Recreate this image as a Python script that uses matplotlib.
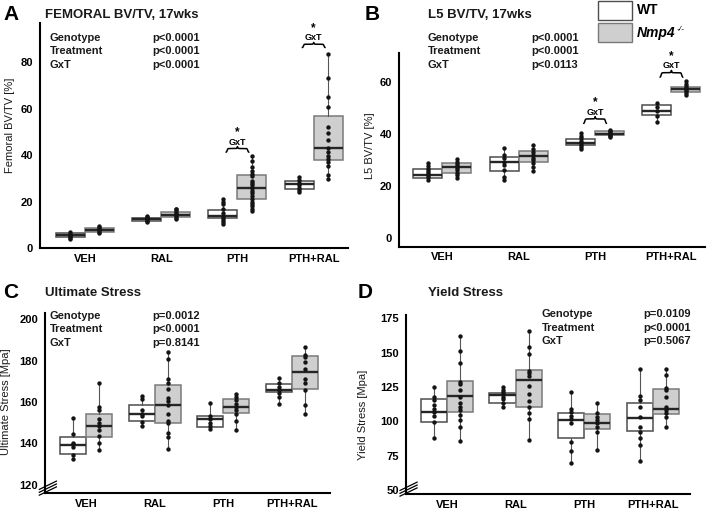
import numpy as np
import matplotlib
matplotlib.use("Agg")
import matplotlib.pyplot as plt
from matplotlib.patches import Rectangle

plt.rcParams['font.family'] = ['Liberation Sans', 'DejaVu Sans']

groups = ["VEH", "RAL", "PTH", "PTH+RAL"]

# Panel A - femoral BV/TV [%]
fem_wt_pts = [[4.0, 4.5, 5.0, 5.3, 5.7, 6.2, 6.8],
              [11.2, 11.7, 12.1, 12.5, 12.9, 13.4, 14.0],
              [10.4, 11.2, 12.0, 13.0, 14.0, 15.2, 17.0, 19.0, 20.0, 21.2],
              [24.1, 25.0, 26.0, 27.0, 28.0, 29.5, 30.6]]
fem_ko_pts = [[6.6, 7.1, 7.6, 8.0, 8.4, 8.9, 9.5],
              [12.5, 13.1, 13.7, 14.2, 14.7, 15.3, 16.0, 16.6, 17.0],
              [16.0, 17.0, 18.0, 19.0, 20.0, 21.0, 22.5, 23.5, 24.5, 25.8, 27.0, 28.0, 29.0, 31.0, 32.0, 33.0, 35.0, 37.5, 39.5],
              [29.7, 31.6, 35.5, 36.9, 38.4, 39.8, 41.3, 43.2, 46.5, 49.4, 52.2, 60.9, 65.2, 73.5, 83.5]]
fem_wt_box = [(4.7, 5.5, 6.3), (11.8, 12.4, 13.1), (12.8, 13.6, 16.2), (25.5, 27.6, 29.1)]
fem_ko_box = [(7.1, 7.9, 8.8), (13.5, 14.3, 15.4), (21.1, 25.8, 31.6), (38.1, 43.2, 56.8)]
fem_p = ["p<0.0001", "p<0.0001", "p<0.0001"]

# Panel B - L5 BV/TV [%]
l5_wt_pts = [[22.3, 23.2, 24.0, 24.8, 25.6, 26.5, 27.5, 28.7],
             [22.3, 23.5, 26.0, 27.8, 29.0, 30.5, 32.0, 34.6],
             [34.2, 35.0, 35.8, 36.5, 37.3, 38.3, 39.3, 40.4],
             [44.5, 47.0, 48.8, 50.5, 51.9]]
l5_ko_pts = [[23.0, 24.0, 25.0, 26.0, 26.8, 27.6, 28.4, 29.2, 30.1],
             [25.8, 27.3, 28.6, 29.8, 30.8, 31.8, 32.8, 34.0, 35.8],
             [38.7, 39.2, 39.6, 40.0, 40.5, 41.0, 41.6],
             [54.9, 55.6, 56.3, 57.0, 57.6, 58.3, 59.0, 60.4]]
l5_wt_box = [(22.9, 24.2, 26.5), (25.6, 29.0, 31.0), (35.8, 36.5, 37.8), (47.1, 48.8, 51.2)]
l5_ko_box = [(24.8, 27.1, 28.8), (29.0, 31.4, 33.2), (39.4, 40.1, 40.9), (55.9, 57.1, 58.1)]
l5_p = ["p<0.0001", "p<0.0001", "p<0.0113"]

# Panel C - ultimate stress [Mpa]
ult_wt_pts = [[132.3, 134.4, 138.4, 139.5, 140.3, 144.3, 152.3],
              [148.3, 150.4, 153.0, 154.1, 156.0, 161.3, 162.9],
              [146.7, 148.3, 149.9, 152.0, 153.3, 159.7],
              [158.9, 162.4, 164.5, 165.9, 167.0, 169.3, 171.7]]
ult_ko_pts = [[136.8, 140.3, 143.5, 146.4, 148.3, 150.0, 152.0, 156.3, 157.6, 169.1],
              [137.1, 143.2, 145.1, 149.9, 151.0, 154.4, 158.4, 160.5, 162.1, 166.4, 169.0, 170.9, 180.8, 184.3],
              [146.4, 150.9, 154.0, 156.0, 157.6, 159.0, 161.0, 162.5, 164.0],
              [154.4, 158.4, 165.6, 169.0, 171.2, 176.0, 179.5, 181.5, 182.9, 186.4]]
ult_wt_box = [(134.9, 139.2, 143.2), (150.9, 154.1, 158.7), (148.0, 152.0, 153.3), (164.8, 165.9, 168.8)]
ult_ko_box = [(142.9, 148.3, 154.4), (149.6, 158.4, 168.3), (154.9, 157.6, 161.6), (166.4, 174.4, 182.4)]
ult_p = ["p=0.0012", "p<0.0001", "p=0.8141"]

# Panel D - yield stress [Mpa]
yld_wt_pts = [[87.6, 99.3, 104.0, 106.6, 108.8, 111.9, 115.5, 117.9, 125.2],
              [110.2, 113.5, 116.0, 118.0, 119.8, 121.5, 123.0, 124.8],
              [69.6, 78.2, 85.2, 98.5, 101.5, 104.0, 106.5, 108.8, 121.1],
              [71.1, 82.8, 88.1, 92.0, 95.6, 103.0, 110.2, 115.5, 118.4, 137.9]]
yld_ko_pts = [[85.7, 96.1, 101.0, 104.5, 108.0, 110.5, 113.1, 118.0, 122.8, 127.2, 129.0, 142.7, 151.4, 162.3],
              [86.4, 101.7, 106.0, 110.7, 115.0, 120.0, 125.7, 133.0, 135.0, 137.0, 149.0, 153.9, 165.8],
              [79.1, 92.4, 95.5, 98.5, 101.0, 103.0, 106.3, 113.1],
              [96.1, 103.0, 106.0, 108.0, 110.7, 117.5, 122.5, 124.5, 133.7, 137.9]]
yld_wt_box = [(99.3, 106.6, 116.0), (113.1, 119.2, 120.8), (88.1, 101.0, 105.8), (93.0, 102.2, 113.1)]
yld_ko_box = [(106.6, 118.4, 129.1), (110.7, 130.1, 137.4), (94.4, 98.5, 105.1), (105.3, 108.8, 123.8)]
yld_p = ["p=0.0109", "p<0.0001", "p=0.5067"]

p_names = ["Genotype", "Treatment", "GxT"]

W, H = 711, 514
KO_FACE = '#cfcfcf'
off = 0.19
bw = 0.38

fig = plt.figure(figsize=(W / 100, H / 100), dpi=100)


def px(x, y):
    return x / W, 1 - y / H


def draw_panel(rect, wt_pts, ko_pts, wt_box, ko_box, ylim, xlim, yticks):
    ax = fig.add_axes(rect)
    for pts, box, sign, face, edge in [(wt_pts, wt_box, -1, 'white', '#4d4d4d'),
                                       (ko_pts, ko_box, 1, KO_FACE, '#7a7a7a')]:
        stats = []
        for p, b in zip(pts, box):
            stats.append(dict(whislo=min(p), q1=b[0], med=b[1], q3=b[2], whishi=max(p), fliers=[]))
        pos = np.arange(len(groups)) + sign * off
        ax.bxp(stats, positions=pos, widths=bw, patch_artist=True, showcaps=False, showfliers=False,
               boxprops=dict(facecolor=face, edgecolor=edge, linewidth=1.1),
               medianprops=dict(color='#262626', linewidth=1.7),
               whiskerprops=dict(color='#555555', linewidth=0.8), manage_ticks=False)
        for x, p in zip(pos, pts):
            ax.scatter(np.full(len(p), x), p, s=10, color='#141414', zorder=4, linewidths=0)
    ax.set_xlim(*xlim)
    ax.set_ylim(*ylim)
    ax.set_yticks(yticks)
    ax.set_xticks(np.arange(len(groups)))
    ax.set_xticklabels(groups, fontsize=8, fontweight='bold')
    for lab in ax.get_yticklabels():
        lab.set_fontweight('bold')
        lab.set_fontsize(8)
    ax.tick_params(length=0, pad=5)
    ax.tick_params(axis='x', pad=4)
    for s in ['top', 'right']:
        ax.spines[s].set_visible(False)
    for s in ['left', 'bottom']:
        ax.spines[s].set_linewidth(1.5)
    return ax


def brace(ax, x0, x1, y, h):
    u = np.linspace(0, 0.5, 100)
    b = 70
    yh = 1 / (1 + np.exp(-b * (u - 0.05))) + 1 / (1 + np.exp(-b * (u - 0.5)))
    yh = (yh - yh.min()) / (yh.max() - yh.min())
    xs = np.concatenate([x0 + u * (x1 - x0), x0 + (1 - u[::-1]) * (x1 - x0)])
    ys = np.concatenate([yh, yh[::-1]])
    ax.plot(xs, y + h * ys, color='black', lw=1.1, solid_capstyle='round')
    g = ax.annotate("GxT", xy=((x0 + x1) / 2, y + h), xytext=(0, 0), textcoords='offset points',
                    ha='center', va='bottom', fontsize=6.5, fontweight='bold')
    # star sits right on top of the GxT label
    ax.annotate("*", xy=(0.5, 1.0), xycoords=g, xytext=(0, -0.2), textcoords='offset points',
                ha='center', va='bottom', fontsize=8.5, fontweight='bold', annotation_clip=False)


def axis_break(ax):
    for k in range(3):
        d = k * 0.016
        ax.plot([-0.02, 0.04], [-0.012 + d, 0.034 + d], transform=ax.transAxes,
                color='black', lw=0.9, clip_on=False)


def ptext(xl, xp, ys, vals, ha_p='left'):
    for name, v, y in zip(p_names, vals, ys):
        fig.text(*px(xl, y), name, fontsize=8, fontweight='bold', color='#1a1a1a', va='center')
        fig.text(*px(xp, y), v, fontsize=8, fontweight='bold', color='#1a1a1a', va='center', ha=ha_p)


axA = draw_panel([40 / W, 1 - 248 / H, 308 / W, 225 / H], fem_wt_pts, fem_ko_pts, fem_wt_box, fem_ko_box,
                 (0, 97), (-0.59, 3.45), [0, 20, 40, 60, 80])
axB = draw_panel([399 / W, 1 - 246.7 / H, 306 / W, 193.4 / H], l5_wt_pts, l5_ko_pts, l5_wt_box, l5_ko_box,
                 (-3.5, 71), (-0.57, 3.44), [0, 20, 40, 60])
axC = draw_panel([45 / W, 1 - 493 / H, 285 / W, 180 / H], ult_wt_pts, ult_ko_pts, ult_wt_box, ult_ko_box,
                 (116, 203), (-0.6, 3.56), [120, 140, 160, 180, 200])
axD = draw_panel([405.7 / W, 1 - 494 / H, 284.3 / W, 179 / H], yld_wt_pts, yld_ko_pts, yld_wt_box, yld_ko_box,
                 (47, 177.5), (-0.6, 3.54), [50, 75, 100, 125, 150, 175])

brace(axA, 2 - 0.15, 2 + 0.15, 41.3, 2.4)
brace(axA, 3 - 0.15, 3 + 0.15, 86.4, 2.2)
brace(axB, 2 - 0.15, 2 + 0.15, 44.0, 2.6)
brace(axB, 3 - 0.15, 3 + 0.15, 61.8, 2.6)
axis_break(axC)
axis_break(axD)

# panel letters and titles
for lx, ly, letter, tx, title in [(3, 15, "A", 45, "FEMORAL BV/TV, 17wks"), (365, 15, "B", 428, "L5 BV/TV, 17wks"),
                                  (3, 293, "C", 45, "Ultimate Stress"), (358, 293, "D", 428, "Yield Stress")]:
    fig.text(*px(lx, ly), letter, fontsize=15, fontweight='bold', va='center')
    fig.text(*px(tx, ly), title, fontsize=9.5, fontweight='bold', va='center', color='#1a1a1a')

ptext(50, 152, [37.7, 51.5, 65], fem_p)
ptext(428, 531, [37.7, 51.5, 65], l5_p)
ptext(50, 152, [316, 329.5, 343], ult_p)
ptext(541.7, 691, [314.3, 327.7, 341], yld_p, ha_p='right')

# y labels
for x, y, lab in [(10, 125, "Femoral BV/TV [%]"), (370, 146, "L5 BV/TV [%]"),
                  (6, 402, "Ultimate Stress [Mpa]"), (363, 415, "Yield Stress [Mpa]")]:
    fig.text(*px(x, y), lab, fontsize=8, rotation=90, ha='center', va='center', color='#1a1a1a')

# legend
fig.add_artist(Rectangle(px(598, 20), 34 / W, 19 / H, facecolor='white', edgecolor='#4d4d4d', lw=1.0,
                         transform=fig.transFigure))
fig.add_artist(Rectangle(px(598, 41.7), 34 / W, 18.4 / H, facecolor=KO_FACE, edgecolor='#7a7a7a', lw=1.0,
                         transform=fig.transFigure))
fig.text(*px(637, 10), "WT", fontsize=10, fontweight='bold', va='center')
t = fig.text(*px(637, 33), "Nmp4", fontsize=10, fontweight='bold', style='italic', va='center')
axB.annotate("-/-", xy=(1.0, 1.0), xycoords=t, xytext=(0.5, 0), textcoords='offset points',
             ha='left', va='top', fontsize=6, style='italic', annotation_clip=False)

fig.savefig("out.png", dpi=100)
